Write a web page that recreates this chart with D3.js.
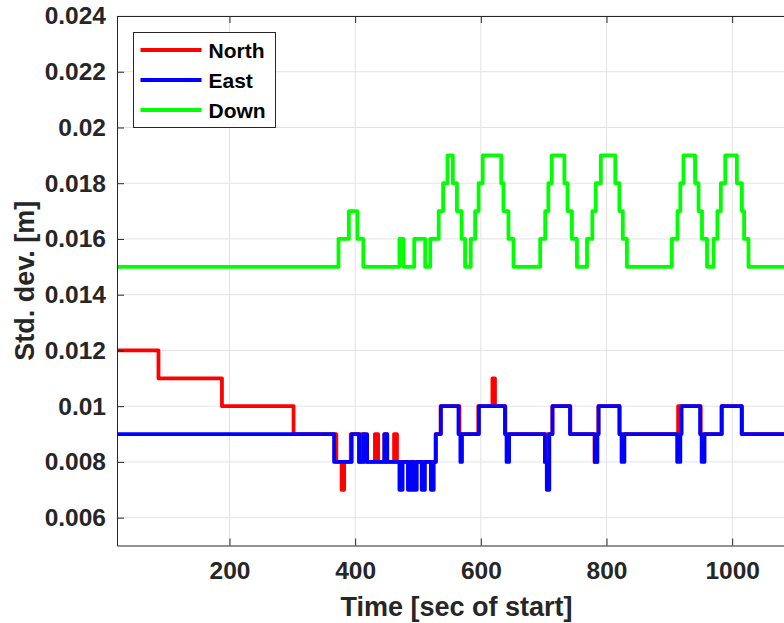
<!DOCTYPE html>
<html>
<head>
<meta charset="utf-8">
<script src="https://cdn.jsdelivr.net/npm/d3@7"></script>
<style>
  body { margin: 0; background: #fff; }
  svg { display: block; font-family: "Liberation Sans", Arial, sans-serif; }
</style>
</head>
<body>
<script>
// step change points: time [s] and value [m]
const northT = [21, 87, 188, 302, 370, 378.5, 382.5, 393, 406, 409, 414, 431.5, 436.5, 446.5, 451, 462, 466.5, 528, 536, 566, 596, 618.5, 622.5, 639, 702, 705.5, 714, 742.5, 781, 785, 787, 821, 914, 950, 983, 1015, 1100];
const northV = [0.012, 0.011, 0.010, 0.009, 0.008, 0.007, 0.008, 0.009, 0.008, 0.009, 0.008, 0.009, 0.008, 0.009, 0.008, 0.009, 0.008, 0.009, 0.010, 0.009, 0.010, 0.011, 0.010, 0.009, 0.008, 0.009, 0.010, 0.009, 0.008, 0.009, 0.010, 0.009, 0.010, 0.009, 0.010, 0.009, 0.009];

const eastT = [21, 366.5, 394.5, 406.5, 413, 419, 446.5, 451, 470.5, 475.5, 484, 489, 493.5, 498, 506, 511, 520.5, 525, 528.5, 536.5, 564.5, 567.5, 570, 597, 638.5, 641, 645, 702, 705, 709, 714, 742, 781.5, 785.5, 787.5, 820.5, 824, 828.5, 912.5, 917.5, 919.5, 949, 951.5, 956, 983.5, 1015.5, 1100];
const eastV = [0.009, 0.008, 0.009, 0.008, 0.009, 0.008, 0.009, 0.008, 0.007, 0.008, 0.007, 0.008, 0.007, 0.008, 0.007, 0.008, 0.007, 0.008, 0.009, 0.010, 0.009, 0.008, 0.009, 0.010, 0.009, 0.008, 0.009, 0.008, 0.007, 0.009, 0.010, 0.009, 0.008, 0.009, 0.010, 0.009, 0.008, 0.009, 0.008, 0.009, 0.010, 0.009, 0.008, 0.009, 0.010, 0.009, 0.009];

const downT = [21, 373.5, 390, 403.5, 413, 470.5, 477, 494, 511.5, 519.5, 533, 540, 547, 555.5, 562, 569.5, 575, 584, 591, 596.5, 603, 632.5, 636, 644, 652, 694.5, 702.5, 707.5, 713, 733, 738, 745, 753, 769, 777.5, 783, 791, 814, 820.5, 826, 832.5, 904, 913, 917.5, 922.5, 941, 946.5, 952, 960, 970.5, 976.5, 982, 989, 1007.5, 1015.5, 1019, 1026, 1100];
const downV = [0.015, 0.016, 0.017, 0.016, 0.015, 0.016, 0.015, 0.016, 0.015, 0.016, 0.017, 0.018, 0.019, 0.018, 0.017, 0.016, 0.015, 0.016, 0.017, 0.018, 0.019, 0.018, 0.017, 0.016, 0.015, 0.016, 0.017, 0.018, 0.019, 0.018, 0.017, 0.016, 0.015, 0.016, 0.017, 0.018, 0.019, 0.018, 0.017, 0.016, 0.015, 0.016, 0.017, 0.018, 0.019, 0.018, 0.017, 0.016, 0.015, 0.016, 0.017, 0.018, 0.019, 0.018, 0.017, 0.016, 0.015, 0.015];

const seriesNames = ['North', 'East', 'Down'];
const seriesColors = ['#ff0000', '#0000ff', '#00ff00'];
const xTicks = [200, 400, 600, 800, 1000];
const yTicks = [0.006, 0.008, 0.01, 0.012, 0.014, 0.016, 0.018, 0.02, 0.022, 0.024];

const width = 784, height = 623;
const mLeft = 117, mTop = 16, mBottom = 545.5;
const mRight = 795;   // axes box runs past the window edge

const svg = d3.select('body').append('svg')
  .attr('width', width)
  .attr('height', height);

const x = d3.scaleLinear().domain([21, 1100]).range([mLeft, mRight]);
const y = d3.scaleLinear().domain([0.005, 0.024]).range([mBottom, mTop]);

// grid
svg.append('g').selectAll('line').data(xTicks).join('line')
  .attr('x1', d => x(d)).attr('x2', d => x(d))
  .attr('y1', mTop).attr('y2', mBottom)
  .attr('stroke', '#e3e3e3').attr('stroke-width', 1);
svg.append('g').selectAll('line').data(yTicks).join('line')
  .attr('x1', mLeft).attr('x2', mRight)
  .attr('y1', d => y(d)).attr('y2', d => y(d))
  .attr('stroke', '#e3e3e3').attr('stroke-width', 1);

// lines
svg.append('clipPath').attr('id', 'clip')
  .append('rect').attr('x', mLeft).attr('y', mTop).attr('width', mRight - mLeft).attr('height', mBottom - mTop);

const series = [
  d3.zip(northT, northV),
  d3.zip(eastT, eastV),
  d3.zip(downT, downV)
];

const line = d3.line()
  .x(d => x(d[0]))
  .y(d => y(d[1]))
  .curve(d3.curveStepAfter);

svg.append('g').attr('clip-path', 'url(#clip)')
  .selectAll('path').data(series).join('path')
  .attr('d', line)
  .attr('fill', 'none')
  .attr('stroke', (d, i) => seriesColors[i])
  .attr('stroke-width', 3.8)
  .attr('stroke-linejoin', 'round');

// axes (MATLAB style: box, inward ticks)
const axisColor = '#262626';
const xAxis = svg.append('g').attr('transform', `translate(0,${mBottom})`)
  .call(d3.axisBottom(x).tickValues(xTicks).tickSizeInner(-7).tickSizeOuter(0).tickPadding(16)
    .tickFormat(d3.format('d')));
const xTop = svg.append('g').attr('transform', `translate(0,${mTop})`)
  .call(d3.axisTop(x).tickValues(xTicks).tickSizeInner(-7).tickSizeOuter(0).tickFormat(''));
const yAxis = svg.append('g').attr('transform', `translate(${mLeft},0)`)
  .call(d3.axisLeft(y).tickValues(yTicks).tickSizeInner(-7).tickSizeOuter(0).tickPadding(11)
    .tickFormat(d => String(+d.toFixed(3))));

[xAxis, xTop, yAxis].forEach(g => {
  g.select('.domain').attr('stroke', axisColor).attr('stroke-width', 1);
  g.selectAll('.tick line').attr('stroke', axisColor);
  g.selectAll('.tick text')
    .attr('fill', axisColor)
    .style('font-size', '24.5px')
    .style('font-weight', 'bold')
    .style('font-family', '"Liberation Sans", Arial, sans-serif');
});

// axis labels
svg.append('text')
  .attr('x', (mLeft + 784) / 2 + 6).attr('y', 616)
  .attr('text-anchor', 'middle')
  .attr('fill', axisColor)
  .style('font-size', '27px').style('font-weight', 'bold')
  .text('Time [sec of start]');

svg.append('text')
  .attr('transform', `translate(34,${(mTop + mBottom) / 2}) rotate(-90)`)
  .attr('text-anchor', 'middle')
  .attr('fill', axisColor)
  .style('font-size', '27px').style('font-weight', 'bold')
  .text('Std. dev. [m]');

// legend
const legend = svg.append('g').attr('transform', 'translate(133.5,32.5)');
legend.append('rect')
  .attr('width', 142).attr('height', 95)
  .attr('fill', '#fff').attr('stroke', axisColor).attr('stroke-width', 1);
const entry = legend.selectAll('g').data(seriesNames).join('g')
  .attr('transform', (d, i) => `translate(0,${17.5 + i * 30})`);
entry.append('line')
  .attr('x1', 7).attr('x2', 68)
  .attr('stroke', (d, i) => seriesColors[i]).attr('stroke-width', 3.8);
entry.append('text')
  .attr('x', 75).attr('dy', '0.36em')
  .attr('fill', '#000')
  .style('font-size', '21px').style('font-weight', 'bold')
  .text(d => d);
</script>
</body>
</html>
